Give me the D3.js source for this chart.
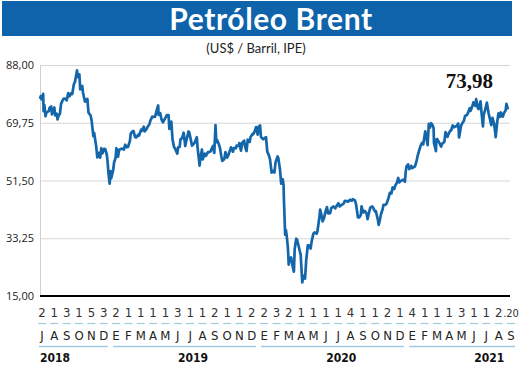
<!DOCTYPE html>
<html><head><meta charset="utf-8">
<script src="https://cdn.jsdelivr.net/npm/d3@7"></script>
<style>body{margin:0;background:#fff}svg{display:block}</style>
</head><body><svg id="c" width="520" height="365"></svg>
<script>
// ---- data ----
const brent = [
["2018-07-02",77.3],["2018-07-04",78.2],["2018-07-06",77.1],["2018-07-10",78.9],["2018-07-11",73.4],["2018-07-13",75.3],["2018-07-16",71.8],["2018-07-18",72.9],["2018-07-20",73.1],["2018-07-24",73.4],["2018-07-26",74.5],["2018-07-30",74.9],
["2018-08-01",72.4],["2018-08-03",73.2],["2018-08-07",74.6],["2018-08-09",72.1],["2018-08-13",72.6],["2018-08-15",70.8],["2018-08-17",71.8],["2018-08-21",72.6],["2018-08-24",75.8],["2018-08-29",77.1],["2018-08-31",77.4],
["2018-09-05",77.3],["2018-09-07",76.8],["2018-09-11",79.1],["2018-09-14",78.1],["2018-09-18",79.0],["2018-09-21",78.8],["2018-09-25",81.9],["2018-09-28",82.7],
["2018-10-03",86.3],["2018-10-05",84.2],["2018-10-09",85.0],["2018-10-11",80.3],["2018-10-16",81.4],["2018-10-18",79.3],["2018-10-23",76.4],["2018-10-25",76.9],["2018-10-29",77.3],
["2018-11-01",72.9],["2018-11-06",72.1],["2018-11-09",70.2],["2018-11-13",65.5],["2018-11-15",66.6],["2018-11-20",62.5],["2018-11-23",58.8],["2018-11-27",60.2],["2018-11-30",58.7],
["2018-12-03",61.7],["2018-12-06",60.1],["2018-12-10",61.5],["2018-12-13",61.4],["2018-12-17",59.6],["2018-12-19",57.2],["2018-12-21",53.8],["2018-12-24",50.5],["2018-12-26",54.5],["2018-12-28",52.2],["2018-12-31",53.8],
["2019-01-02",54.9],["2019-01-04",57.1],["2019-01-08",58.7],["2019-01-10",61.7],["2019-01-14",59.0],["2019-01-17",61.2],["2019-01-22",61.5],["2019-01-25",61.6],["2019-01-29",61.3],
["2019-02-01",62.8],["2019-02-05",62.0],["2019-02-08",62.1],["2019-02-13",64.0],["2019-02-15",66.3],["2019-02-20",67.1],["2019-02-22",67.1],["2019-02-26",65.2],
["2019-03-01",65.1],["2019-03-06",66.0],["2019-03-08",65.7],["2019-03-13",67.6],["2019-03-15",67.2],["2019-03-20",68.5],["2019-03-22",67.0],["2019-03-27",67.8],["2019-03-29",68.4],
["2019-04-03",69.3],["2019-04-05",70.3],["2019-04-10",71.7],["2019-04-12",71.6],["2019-04-17",71.6],["2019-04-23",74.5],["2019-04-25",75.2],["2019-04-26",72.2],["2019-04-30",72.8],
["2019-05-03",70.9],["2019-05-07",69.9],["2019-05-10",70.6],["2019-05-15",71.8],["2019-05-17",72.2],["2019-05-21",72.2],["2019-05-23",67.8],["2019-05-28",70.1],["2019-05-31",64.5],
["2019-06-04",62.0],["2019-06-06",61.7],["2019-06-12",60.0],["2019-06-14",62.0],["2019-06-18",62.1],["2019-06-20",64.5],["2019-06-24",64.9],["2019-06-28",66.6],
["2019-07-02",62.4],["2019-07-05",64.2],["2019-07-10",67.0],["2019-07-12",66.7],["2019-07-17",63.7],["2019-07-19",62.5],["2019-07-24",63.2],["2019-07-26",63.5],["2019-07-31",65.2],
["2019-08-02",61.9],["2019-08-07",56.2],["2019-08-09",58.5],["2019-08-13",61.3],["2019-08-15",58.2],["2019-08-20",60.0],["2019-08-23",59.3],["2019-08-28",60.5],["2019-08-30",60.4],
["2019-09-04",60.7],["2019-09-06",61.5],["2019-09-10",62.4],["2019-09-13",60.2],["2019-09-16",69.0],["2019-09-18",63.6],["2019-09-20",64.3],["2019-09-24",63.1],["2019-09-27",61.9],
["2019-10-01",58.9],["2019-10-03",57.7],["2019-10-08",58.2],["2019-10-11",60.5],["2019-10-15",58.7],["2019-10-18",59.4],["2019-10-23",61.2],["2019-10-25",62.0],["2019-10-30",60.6],
["2019-11-01",61.7],["2019-11-06",61.7],["2019-11-08",62.5],["2019-11-13",62.4],["2019-11-15",63.3],["2019-11-19",60.9],["2019-11-22",63.4],["2019-11-27",64.1],["2019-11-29",62.4],
["2019-12-03",60.8],["2019-12-06",64.4],["2019-12-11",63.7],["2019-12-13",65.2],["2019-12-18",66.2],["2019-12-20",66.1],["2019-12-24",67.2],["2019-12-27",68.4],["2019-12-31",66.0],
["2020-01-03",68.6],["2020-01-06",68.9],["2020-01-08",65.4],["2020-01-10",65.0],["2020-01-14",64.5],["2020-01-17",64.9],["2020-01-21",65.2],["2020-01-24",60.7],["2020-01-28",59.5],["2020-01-31",58.2],
["2020-02-04",54.0],["2020-02-07",54.5],["2020-02-11",54.0],["2020-02-14",57.3],["2020-02-19",59.1],["2020-02-21",58.5],["2020-02-25",55.0],["2020-02-28",50.5],
["2020-03-03",51.9],["2020-03-05",50.0],["2020-03-06",45.3],["2020-03-09",34.4],["2020-03-11",35.8],["2020-03-13",33.9],["2020-03-16",30.1],["2020-03-18",24.9],["2020-03-20",27.0],["2020-03-24",27.2],["2020-03-27",24.9],["2020-03-31",22.7],
["2020-04-02",29.9],["2020-04-06",33.1],["2020-04-08",32.8],["2020-04-14",29.6],["2020-04-17",28.1],["2020-04-21",19.3],["2020-04-24",21.4],["2020-04-28",20.5],
["2020-05-01",26.4],["2020-05-05",31.0],["2020-05-08",31.0],["2020-05-12",30.0],["2020-05-15",32.5],["2020-05-19",34.7],["2020-05-22",35.1],["2020-05-27",34.7],["2020-05-29",35.3],
["2020-06-03",39.8],["2020-06-05",42.3],["2020-06-08",40.8],["2020-06-11",38.6],["2020-06-15",39.7],["2020-06-18",41.5],["2020-06-22",43.1],["2020-06-25",41.1],["2020-06-30",41.2],
["2020-07-03",42.8],["2020-07-08",43.3],["2020-07-13",42.7],["2020-07-16",43.4],["2020-07-21",44.3],["2020-07-24",43.3],["2020-07-29",43.8],
["2020-08-03",44.2],["2020-08-06",45.1],["2020-08-10",45.0],["2020-08-14",44.8],["2020-08-19",45.4],["2020-08-24",45.1],["2020-08-26",45.6],["2020-08-31",45.3],
["2020-09-03",44.1],["2020-09-08",39.8],["2020-09-11",39.8],["2020-09-15",40.5],["2020-09-17",43.3],["2020-09-21",41.4],["2020-09-25",41.9],["2020-09-30",41.0],
["2020-10-02",39.3],["2020-10-07",42.0],["2020-10-09",42.9],["2020-10-14",43.3],["2020-10-16",42.9],["2020-10-21",41.7],["2020-10-23",41.8],["2020-10-28",39.1],["2020-10-30",37.5],
["2020-11-02",39.0],["2020-11-05",40.9],["2020-11-09",42.4],["2020-11-11",43.8],["2020-11-16",43.8],["2020-11-19",44.2],["2020-11-24",46.1],["2020-11-27",47.6],
["2020-12-01",47.4],["2020-12-04",49.3],["2020-12-08",48.8],["2020-12-11",50.0],["2020-12-15",50.8],["2020-12-18",52.3],["2020-12-21",50.9],["2020-12-24",51.3],["2020-12-31",51.8],
["2021-01-04",51.1],["2021-01-06",54.3],["2021-01-08",56.0],["2021-01-12",56.6],["2021-01-15",55.1],["2021-01-20",56.1],["2021-01-22",55.4],["2021-01-27",55.8],["2021-01-29",55.9],
["2021-02-02",57.5],["2021-02-05",59.3],["2021-02-09",61.1],["2021-02-12",62.4],["2021-02-16",63.4],["2021-02-19",62.9],["2021-02-24",67.0],["2021-02-26",66.1],
["2021-03-02",62.7],["2021-03-05",69.4],["2021-03-08",68.2],["2021-03-11",69.6],["2021-03-15",68.9],["2021-03-17",68.0],["2021-03-18",63.3],["2021-03-23",60.8],["2021-03-24",64.4],["2021-03-26",64.6],["2021-03-31",63.5],
["2021-04-05",62.2],["2021-04-08",63.2],["2021-04-13",63.7],["2021-04-16",66.8],["2021-04-21",65.3],["2021-04-23",66.1],["2021-04-28",67.3],["2021-04-30",67.3],
["2021-05-04",68.9],["2021-05-07",68.3],["2021-05-11",68.6],["2021-05-14",68.7],["2021-05-18",69.5],["2021-05-20",65.1],["2021-05-25",68.7],["2021-05-28",69.6],
["2021-06-01",70.3],["2021-06-04",71.9],["2021-06-09",72.2],["2021-06-11",72.7],["2021-06-16",74.4],["2021-06-18",73.5],["2021-06-23",75.2],["2021-06-25",76.2],["2021-06-30",75.1],
["2021-07-02",77.2],["2021-07-06",74.5],["2021-07-08",74.1],["2021-07-13",76.5],["2021-07-15",73.5],["2021-07-19",68.6],["2021-07-21",72.2],["2021-07-26",74.5],["2021-07-29",76.1],
["2021-08-02",72.9],["2021-08-05",71.3],["2021-08-09",69.0],["2021-08-12",71.3],["2021-08-16",69.5],["2021-08-19",66.5],["2021-08-20",65.2],["2021-08-24",70.1],["2021-08-27",72.7],["2021-08-31",71.6],
["2021-09-02",73.0],["2021-09-07",71.7],["2021-09-10",72.9],["2021-09-14",73.6],["2021-09-16",75.7],["2021-09-17",75.3],["2021-09-20",73.98]
];
const yTicks = [15, 33.25, 51.5, 69.75, 88];
const monthLetters = ["J","A","S","O","N","D",
  "E","F","M","A","M","J","J","A","S","O","N","D",
  "E","F","M","A","M","J","J","A","S","O","N","D",
  "E","F","M","A","M","J","J","A","S"];
const monthYears = [2018,2018,2018,2018,2018,2018,
  2019,2019,2019,2019,2019,2019,2019,2019,2019,2019,2019,2019,
  2020,2020,2020,2020,2020,2020,2020,2020,2020,2020,2020,2020,
  2021,2021,2021,2021,2021,2021,2021,2021,2021];
const monthNumbers = ["2","1","3","1","5","3","2","1","1","1","1","3","1","1","2","1","1","2","2",
  "3","2","1","1","1","1","4","1","1","2","1","4","1","1","1","3","1","1","2",".20"];
const years = [2018, 2019, 2020, 2021];
const title = "Petróleo Brent";
const subtitle = "(US$ / Barril, IPE)";
const lastLabel = "73,98";

// ---- drawing ----
const svg = d3.select("#c");
const parse = d3.timeParse("%Y-%m-%d");
const data = brent.map(d => ({date: parse(d[0]), value: d[1]}));
const L = 40, R = 508, T = 65, B = 296;

const x = d3.scaleTime().domain(d3.extent(data, d => d.date)).range([L, R]);
const y = d3.scaleLinear().domain([15, 88]).range([B, T]);
const loc = d3.formatLocale({decimal: ",", thousands: ".", grouping: [3], currency: ["", ""]});
const fmt = loc.format(".2f");

// header
svg.append("rect").attr("x", 2).attr("y", 1).attr("width", 510).attr("height", 35).attr("fill", "#0e63ab");
svg.append("text").attr("x", 271).attr("y", 30).attr("text-anchor", "middle")
  .attr("font-family", "Lato, 'Open Sans', sans-serif").attr("font-weight", 700).attr("font-size", 30)
  .attr("letter-spacing", 0.6).attr("fill", "#fff").text(title);
svg.append("text").attr("x", 256).attr("y", 53).attr("text-anchor", "middle")
  .attr("font-family", "Lato, 'Open Sans', sans-serif").attr("font-size", 13)
  .attr("fill", "#222").text(subtitle);

// grid + y axis
const yAxis = svg.append("g").attr("transform", `translate(${L},0)`)
  .call(d3.axisLeft(y).tickValues(yTicks).tickFormat(fmt).tickSize(-(R + 2 - L)).tickPadding(6));
yAxis.select(".domain").remove();
yAxis.selectAll(".tick line").attr("stroke", "#d6d6d6").attr("stroke-width", 1);
yAxis.selectAll(".tick text").attr("font-family", "'Open Sans', sans-serif").attr("font-size", 11).attr("fill", "#222");
svg.append("line").attr("x1", L + 0.5).attr("x2", L + 0.5).attr("y1", T).attr("y2", B).attr("stroke", "#cfcfcf");

// series
svg.append("path").datum(data)
  .attr("d", d3.line().x(d => x(d.date)).y(d => y(d.value)))
  .attr("fill", "none").attr("stroke", "#1466ab").attr("stroke-width", 2.7).attr("stroke-linejoin", "round");

// baseline
svg.append("line").attr("x1", L).attr("x2", R + 2).attr("y1", B).attr("y2", B).attr("stroke", "#000").attr("stroke-width", 2);

// last value label
const last = data[data.length - 1];
svg.append("text").attr("x", x(last.date) - 15).attr("y", 88).attr("text-anchor", "end")
  .attr("font-family", "'Liberation Serif', serif").attr("font-weight", 700).attr("font-size", 21)
  .attr("fill", "#111").text(lastLabel);

// month rows
const idx = d3.range(monthLetters.length);
const px = d3.scalePoint().domain(idx).range([42, 511]);
const narrow = "'Liberation Sans Narrow', 'DejaVu Sans Condensed', sans-serif";

svg.append("g").selectAll("text").data(idx).join("text")
  .attr("x", i => px(i)).attr("y", 317).attr("text-anchor", "middle")
  .attr("font-family", narrow).attr("font-size", i => i === idx.length - 1 ? 11 : 13).attr("fill", "#333")
  .text(i => monthNumbers[i]);

svg.append("g").selectAll("line").data(idx).join("line")
  .attr("x1", i => px(i) - 4).attr("x2", i => px(i) + 4).attr("y1", 323.5).attr("y2", 323.5)
  .attr("stroke", "#9dcbe0").attr("stroke-width", 1.2);

svg.append("g").selectAll("text").data(idx).join("text")
  .attr("x", i => px(i)).attr("y", 340).attr("text-anchor", "middle")
  .attr("font-family", narrow).attr("font-size", 13).attr("fill", "#222")
  .text(i => monthLetters[i]);

// year segments + labels
years.forEach(yr => {
  const ids = idx.filter(i => monthYears[i] === yr);
  const a = px(ids[0]) - 3, b = px(ids[ids.length - 1]) + 4;
  svg.append("line").attr("x1", a).attr("x2", b).attr("y1", 346.5).attr("y2", 346.5)
    .attr("stroke", "#9dcbe0").attr("stroke-width", 1.5);
  const jul = idx.find(i => monthYears[i] === yr && monthLetters[i] === "J" && i > 0 && monthLetters[i - 1] === "J") ?? ids[0];
  const first = yr === years[0];
  svg.append("text").attr("x", first ? L : px(jul) + 3).attr("y", 362)
    .attr("text-anchor", first ? "start" : "middle")
    .attr("font-family", narrow).attr("font-weight", 700).attr("font-size", 12).attr("fill", "#111")
    .text(yr);
});
</script>
</body></html>
